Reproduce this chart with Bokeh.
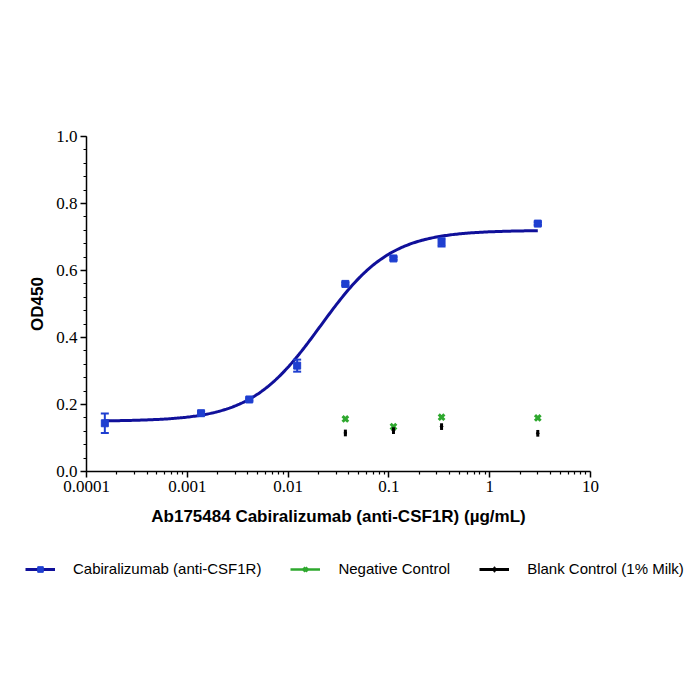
import numpy as np
from bokeh.plotting import figure
from bokeh.models import (Range1d, FixedTicker, CustomJSTickFormatter, Legend, LegendItem,
                          SingleIntervalTicker, PrintfTickFormatter)
from bokeh.embed import file_html
from bokeh.resources import INLINE

# ---- data ----
conc_blue = [0.000152, 0.00137, 0.00412, 0.0123, 0.037, 0.111, 0.333, 3.0]
od_blue = [0.144, 0.174, 0.215, 0.316, 0.560, 0.636, 0.684, 0.740]
err_blue = [0.029, 0.004, 0.004, 0.018, 0.004, 0.004, 0.012, 0.004]

conc_ctrl = [0.037, 0.111, 0.333, 3.0]
od_neg = [0.157, 0.134, 0.162, 0.160]
err_neg = [0.003, 0.003, 0.003, 0.003]
od_blank = [0.115, 0.122, 0.134, 0.114]
err_blank = [0.010, 0.010, 0.010, 0.010]

# 4PL fit parameters (estimated from the drawn curve)
fit_bottom = 0.150
fit_top = 0.720
fit_ec50 = 0.021
fit_hill = 1.25

x_ticks = [0.0001, 0.001, 0.01, 0.1, 1, 10]
x_tick_labels = ["0.0001", "0.001", "0.01", "0.1", "1", "10"]
y_tick_step = 0.2
x_axis_span = (0.0001, 10)
y_axis_span = (0.0, 1.0)

series_names = ["Cabiralizumab (anti-CSF1R)", "Negative Control", "Blank Control (1% Milk)"]

BLUE_LINE = "#10109a"
BLUE_PT = "#1f3fd0"
GREEN = "#2ea82e"
BLACK = "#000000"

# ---- layout geometry (pixels of the 700x700 page) ----
W, H = 700, 700
AX_L, AX_R, AX_T, AX_B = 86, 590, 136, 471   # where the drawn axes span
dec_px = (AX_R - AX_L) / (np.log10(x_axis_span[1]) - np.log10(x_axis_span[0]))
unit_px = (AX_B - AX_T) / (y_axis_span[1] - y_axis_span[0])
x_lo = 10 ** (np.log10(x_axis_span[0]) - AX_L / dec_px)
x_hi = 10 ** (np.log10(x_axis_span[1]) + (W - AX_R) / dec_px)
y_lo = y_axis_span[0] - (H - AX_B) / unit_px
y_hi = y_axis_span[1] + AX_T / unit_px

cb = np.array(conc_blue); ob = np.array(od_blue); eb = np.array(err_blue)
cc = np.array(conc_ctrl)
on = np.array(od_neg); en = np.array(err_neg)
ok = np.array(od_blank); ek = np.array(err_blank)
xs = np.logspace(np.log10(min(conc_blue)), np.log10(max(conc_blue)), 300)
ys = fit_bottom + (fit_top - fit_bottom) / (1.0 + (fit_ec50 / xs) ** fit_hill)

p = figure(width=W, height=H, x_axis_type="log",
           x_range=Range1d(x_lo, x_hi), y_range=Range1d(y_lo, y_hi),
           output_backend="svg", toolbar_location=None,
           min_border_left=0, min_border_right=0, min_border_top=0, min_border_bottom=0)
p.outline_line_color = None
p.grid.visible = False
p.background_fill_color = "white"
p.border_fill_color = "white"

curve = p.line(xs, ys, line_color=BLUE_LINE, line_width=3)
p.segment(cb, ob - eb, cb, ob + eb, line_color=BLUE_PT, line_width=2)
p.scatter(cb, ob - eb, marker="dash", size=8, line_color=BLUE_PT, line_width=2)
p.scatter(cb, ob + eb, marker="dash", size=8, line_color=BLUE_PT, line_width=2)
blue_pts = p.scatter(cb, ob, marker="square", size=7, fill_color=BLUE_PT, line_color=BLUE_PT)

neg_seg = p.segment(cc, on - en, cc, on + en, line_color=GREEN, line_width=2.5)
neg_pts = p.scatter(cc, on, marker="x", size=8, line_color=GREEN, line_width=3)

blank_seg = p.segment(cc, ok - ek, cc, ok + ek, line_color=BLACK, line_width=3)
blank_pts = p.scatter(cc, ok, marker="diamond", size=4, fill_color=BLACK, line_color=BLACK)

minor = [m * t for t in x_ticks[:-1] for m in range(2, 10)]
xa = p.xaxis[0]
ya = p.yaxis[0]
xa.ticker = FixedTicker(ticks=x_ticks, minor_ticks=minor)
xa.formatter = CustomJSTickFormatter(args=dict(xt=x_ticks, xl=x_tick_labels), code="""
for (let i = 0; i < xt.length; i++) {
  if (Math.abs(Math.log10(tick / xt[i])) < 1e-6) return xl[i];
}
return "";
""")
ya.ticker = SingleIntervalTicker(interval=y_tick_step, num_minor_ticks=5)
ya.formatter = PrintfTickFormatter(format="%.1f")
xa.fixed_location = y_axis_span[0]
ya.fixed_location = x_axis_span[0]
xa.bounds = x_axis_span
ya.bounds = y_axis_span

for ax in (xa, ya):
    ax.axis_line_width = 1.5
    ax.axis_line_color = "black"
    ax.major_tick_line_width = 1.5
    ax.minor_tick_line_width = 1.2
    ax.major_tick_out = 6
    ax.major_tick_in = 0
    ax.minor_tick_out = 3
    ax.minor_tick_in = 0
    ax.major_label_text_font = "Liberation Serif"
    ax.major_label_text_font_size = "17px"
    ax.major_label_text_color = "black"
    ax.axis_label_text_font = "Liberation Sans"
    ax.axis_label_text_font_style = "bold"
    ax.axis_label_text_font_size = "17px"
    ax.axis_label_text_color = "black"

xa.axis_label = "Ab175484 Cabiralizumab (anti-CSF1R) (µg/mL)"
ya.axis_label = "OD450"
xa.major_label_standoff = 3
xa.axis_label_standoff = 12
ya.major_label_standoff = 3
ya.axis_label_standoff = 6

legend = Legend(items=[
    LegendItem(label=series_names[0], renderers=[curve, blue_pts]),
    LegendItem(label=series_names[1], renderers=[neg_seg, neg_pts]),
    LegendItem(label=series_names[2], renderers=[blank_seg, blank_pts]),
], orientation="horizontal", location=(25, 123), glyph_width=30, glyph_height=14,
    label_standoff=18, spacing=29, padding=0, margin=0, border_line_color=None,
    background_fill_alpha=0, label_text_font="Liberation Sans", label_text_font_size="15px",
    label_text_color="black")
p.add_layout(legend)

open("out.html", "w").write(file_html(p, INLINE))
